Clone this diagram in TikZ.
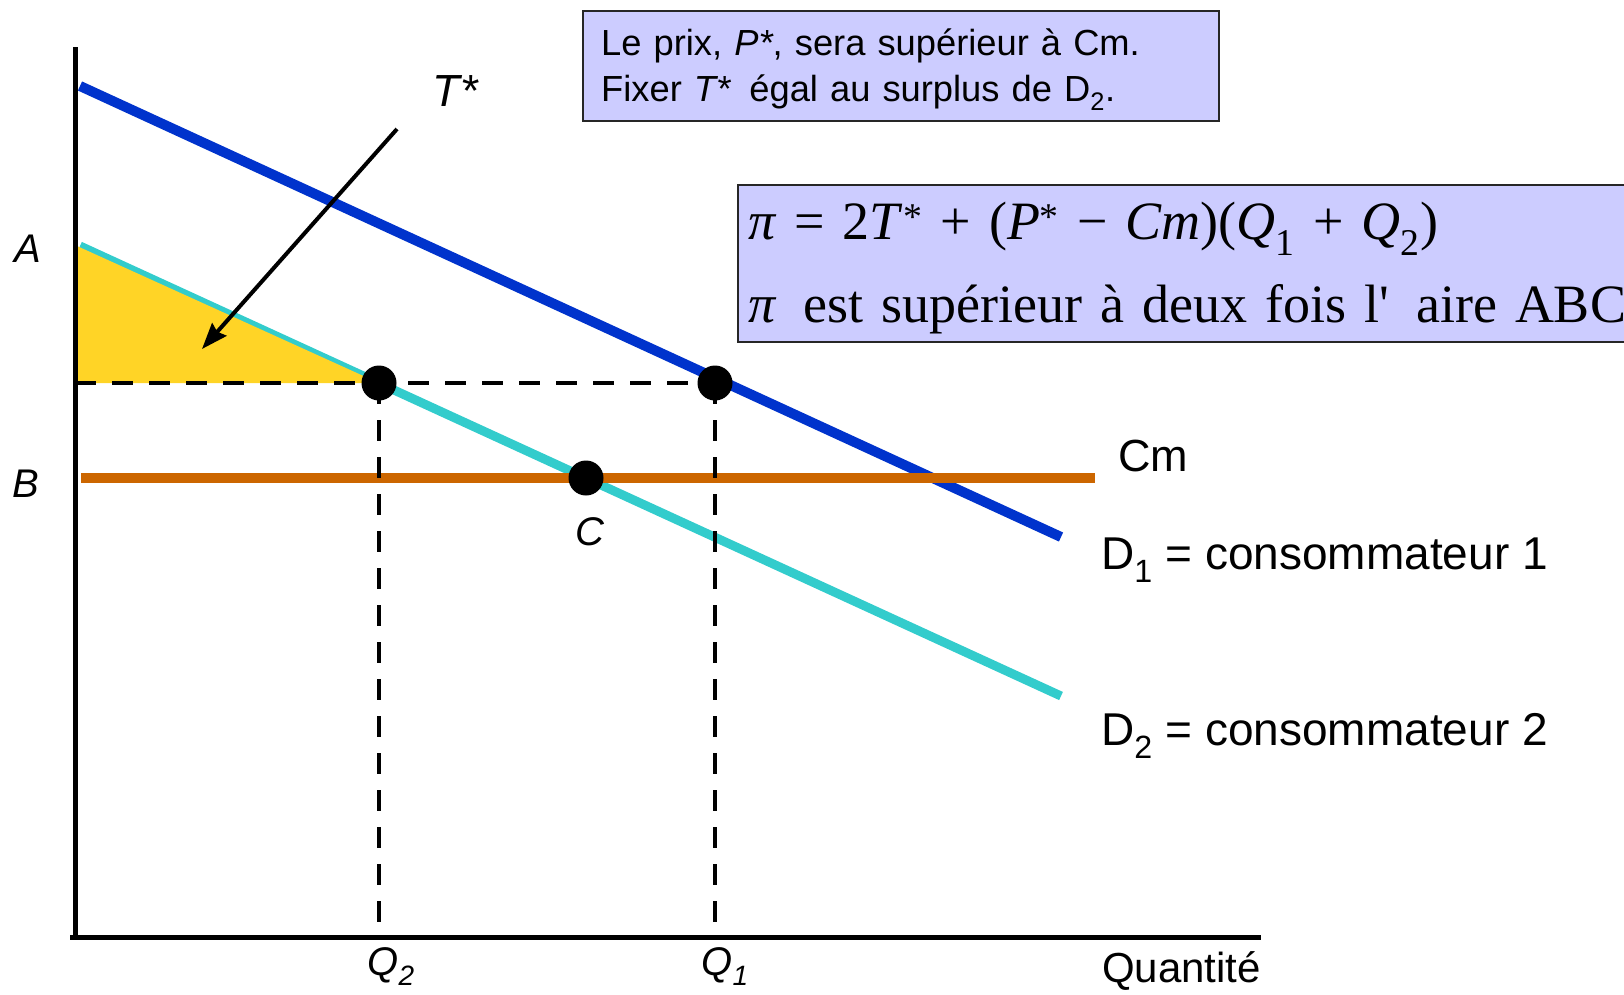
\documentclass[tikz,border=0pt]{standalone}
\usepackage{fontspec}
\setmainfont{Liberation Sans}
\newfontfamily\serifnote{Liberation Serif}
\usetikzlibrary{arrows.meta,positioning}

\definecolor{demandun}{RGB}{0,51,204}
\definecolor{demanddeux}{RGB}{51,204,204}
\definecolor{coutmarg}{RGB}{204,102,0}
\definecolor{surplusjaune}{RGB}{255,212,38}
\definecolor{notefond}{RGB}{204,204,255}

\begin{document}
\begin{tikzpicture}[
    x=1pt, y=-1pt,
    axe/.style={line width=5pt},
    courbe/.style={line width=10pt},
    guide/.style={line width=4pt, dash pattern=on 21pt off 16pt},
    point/.style={circle, fill=black, inner sep=0pt, minimum size=35pt},
    etiq/.style={inner sep=0pt, font=\fontsize{46}{54}\selectfont},
    lettre/.style={inner sep=0pt, font=\fontsize{40}{48}\selectfont\itshape},
    cadre/.style={draw=black!85, line width=2pt, fill=notefond, anchor=north west, inner sep=0pt},
    note/.style={inner sep=0pt, anchor=base west, align=left}
]
\useasboundingbox (0,0) rectangle (1624,994);
\clip (0,0) rectangle (1624,994);

\coordinate (ytop) at (75,47);
\coordinate (ybas) at (75,939);
\coordinate (xdeb) at (70,937);
\coordinate (xfin) at (1261,937);
\coordinate (pA) at (77,246);
\coordinate (pstar) at (75,383);
\coordinate (e2) at (379,383);
\coordinate (e1) at (715,383);
\coordinate (ec) at (586,478);
\coordinate (q2ax) at (379,937);
\coordinate (q1ax) at (715,937);

% demandes et cout marginal
\draw[courbe, demanddeux, line width=9pt] (80,246) coordinate (d2a) -- (1061,696) coordinate (d2b);
\draw[courbe, demandun] (80,86) coordinate (d1a) -- (1061,537) coordinate (d1b);
\draw[courbe, coutmarg] (81,478) coordinate (cma) -- (1095,478) coordinate (cmb);

% surplus de D2
\fill[surplusjaune] (pA) -- (77,383) -- (e2) -- cycle;

\draw[axe] (ytop) -- (ybas);
\draw[axe] (xdeb) -- (xfin);

\draw[guide] (pstar) -- (e1);
\draw[guide] (e2) -- (q2ax);
\draw[guide] (e1) -- (q1ax);

\node[point] (pe2) at (e2) {};
\node[point] (pe1) at (e1) {};
\node[point] (pc) at (ec) {};

% fleche T*
\coordinate (tdeb) at (397,129);
\coordinate (tfin) at (202,349);
\draw[-{Stealth[length=26pt,width=19pt,inset=3pt]}, line width=4pt] (tdeb) -- (tfin);
\node[etiq, anchor=base, font=\fontsize{45}{54}\selectfont] (tlab) at (456,106) {\textit{T*}};

\node[lettre, anchor=base] (lA) at (28,262) {A};
\node[lettre, anchor=base] (lB) at (26,497) {B};
\node[lettre, below=22pt of pc, xshift=4pt] (lC) {C};
\node[lettre, anchor=base] (lQ2) at (391,975) {Q\textsubscript{2}};
\node[lettre, anchor=base] (lQ1) at (725,975) {Q\textsubscript{1}};
\node[etiq, anchor=base east, font=\fontsize{42}{50}\selectfont] (quant) at (1261,982) {Quantité};

\node[etiq, anchor=base west, font=\fontsize{45}{54}\selectfont] (lcm) at (1118,471) {Cm};
\node[etiq, anchor=base west] (ld1) at (1101,569) {D\textsubscript{1} = consommateur 1};
\node[etiq, anchor=base west] (ld2) at (1101,745) {D\textsubscript{2} = consommateur 2};

% encadres
\node[cadre, minimum width=636pt, minimum height=110pt] (box1) at (582,10) {};
\node[note, text width=600pt, font=\fontsize{36.3}{46}\selectfont] (note1) at (601,55)
    {Le prix, \textit{P*}, sera supérieur à Cm.\\
     Fixer \textit{T*}\enspace égal au surplus de D\textsubscript{2}.};
\node[cadre, minimum width=960pt, minimum height=157pt] (box2) at (737,184) {};
\node[note, text width=940pt, font=\serifnote\fontsize{54}{83}\selectfont] (note2) at (748,239)
    {\textit{π} = 2\textit{T}\textsuperscript{*} + (\textit{P}\textsuperscript{*} − \textit{Cm})(\textit{Q}\textsubscript{1} + \textit{Q}\textsubscript{2})\\
     \textit{π}\enspace est supérieur à deux fois l\textquotesingle\enspace aire ABC};
\end{tikzpicture}
\end{document}
